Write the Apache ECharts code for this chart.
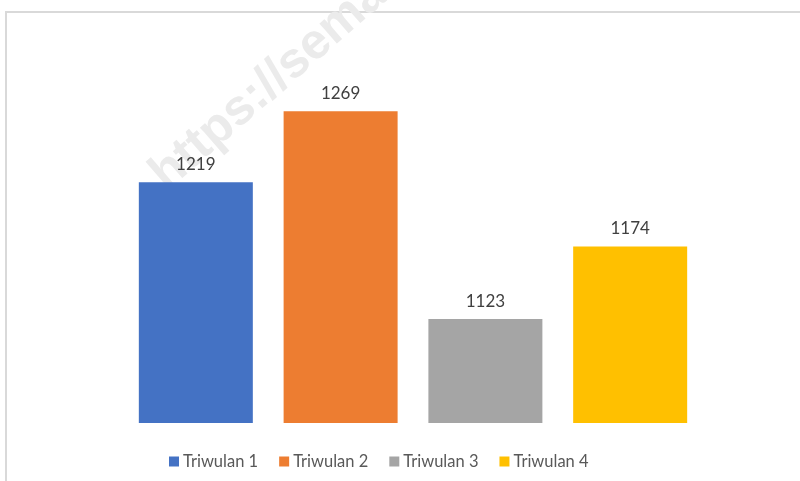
<!DOCTYPE html>
<html>
<head>
<meta charset="utf-8">
<script src="https://cdn.jsdelivr.net/npm/echarts@6/dist/echarts.min.js"></script>
<style>
  html, body { margin: 0; padding: 0; background: #fff; }
  #chart { width: 800px; height: 481px; }
</style>
</head>
<body>
<div id="chart"></div>
<script>
// quarterly values, one series per quarter
const seriesNames = ["Triwulan 1", "Triwulan 2", "Triwulan 3", "Triwulan 4"];
const seriesValues = [1219, 1269, 1123, 1174];
const seriesColors = ["#4472C4", "#ED7D31", "#A5A5A5", "#FFC000"];
const categories = [""];

const chart = echarts.init(document.getElementById("chart"), null, { renderer: "canvas" });

const series = seriesNames.map((name, i) => ({
  name,
  type: "bar",
  data: [seriesValues[i]],
  barWidth: 114,
  barGap: "27%",
  itemStyle: { color: seriesColors[i] },
  label: {
    show: true,
    position: "top",
    distance: 9,
    color: "#404040",
    fontSize: 17,
    fontFamily: "Lato",
  },
  z: 3,
}));

const option = {
  backgroundColor: "#fff",
  animation: false,
  grid: { left: 113, right: 87, top: 67, bottom: 58, containLabel: false },
  legend: {
    data: seriesNames,
    left: 164,
    top: 448,
    itemWidth: 10,
    itemHeight: 10,
    itemGap: 21,
    icon: "rect",
    textStyle: { color: "#595959", fontSize: 16.5, fontFamily: "Lato", padding: [0, 0, 0, -1] },
  },
  xAxis: {
    type: "category",
    data: categories,
    axisLine: { show: false },
    axisTick: { show: false },
    axisLabel: { show: false },
  },
  yAxis: {
    type: "value",
    min: 1050,
    max: 1300,
    axisLine: { show: false },
    axisTick: { show: false },
    axisLabel: { show: false },
    splitLine: { show: false },
  },
  graphic: [
    {
      type: "polyline",
      shape: { points: [[6, 481], [6, 12], [800, 12]] },
      style: { stroke: "#d9d9d9", lineWidth: 2, fill: null },
      z: 0,
    },
    {
      type: "text",
      x: 174,
      y: 200,
      rotation: (41 * Math.PI) / 180,
      style: {
        text: "https://semangat",
        font: "bold 50px 'Liberation Sans'",
        fill: "#ebebeb",
        textAlign: "left",
        textVerticalAlign: "bottom",
      },
      z: 1,
    },
  ],
  series,
};

chart.setOption(option);
</script>
</body>
</html>
